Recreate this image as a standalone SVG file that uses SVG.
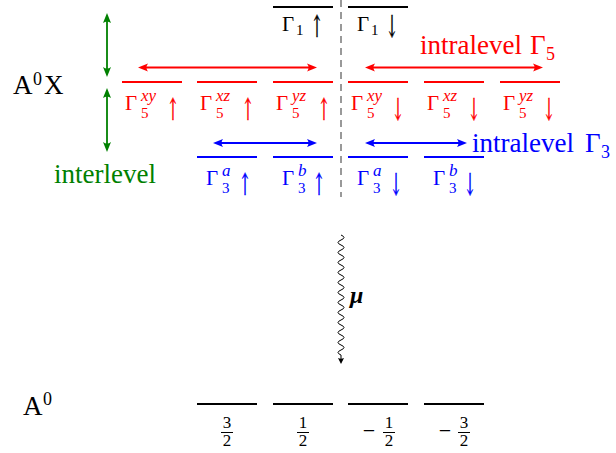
<svg xmlns="http://www.w3.org/2000/svg" width="616" height="453" viewBox="0 0 616 453">
<defs>
<style>
text{font-family:"Liberation Serif","Times New Roman",serif;}
.lvl{stroke-width:2.2;fill:none;}
.k{stroke:#000;}
.r{stroke:#f00;}
.b{stroke:#00f;}
.tk{fill:#000;}
.tr{fill:#f00;}
.tb{fill:#00f;}
.tg{fill:#008000;}
.G{font-size:21px;}
.s{font-size:15px;}
.sp{font-size:17px;font-style:italic;}
.ar{font-size:19px;font-family:"DejaVu Serif",serif;stroke-width:0.35;opacity:0.999;}
.tk.ar{stroke:#000;}
.tr.ar{stroke:#f00;}
.tb.ar{stroke:#00f;}
.big{font-size:27px;}
.num{font-size:17px;}
.arr{stroke-width:1.8;fill:none;}
</style>
<marker id="mr" markerWidth="10" markerHeight="10" refX="5" refY="5" orient="auto-start-reverse" markerUnits="userSpaceOnUse"><path d="M10,5 L0,1 Q3,5 0,9 Z" fill="#f00"/></marker>
<marker id="mb" markerWidth="10" markerHeight="10" refX="5" refY="5" orient="auto-start-reverse" markerUnits="userSpaceOnUse"><path d="M10,5 L0,1 Q3,5 0,9 Z" fill="#00f"/></marker>
<marker id="mg" markerWidth="10" markerHeight="10" refX="5" refY="5" orient="auto-start-reverse" markerUnits="userSpaceOnUse"><path d="M10,5 L0,1 Q3,5 0,9 Z" fill="#008000"/></marker>
<marker id="mk" markerWidth="7" markerHeight="7" refX="2" refY="3" orient="auto" markerUnits="userSpaceOnUse"><path d="M6,3 L0,0 Q1.5,3 0,6 Z" fill="#000"/></marker>
</defs>

<!-- separator -->
<line x1="341" y1="0" x2="341" y2="197" stroke="#808080" stroke-width="1.6" stroke-dasharray="7 5"/>

<!-- Gamma1 -->
<g id="g1-up">
<line class="lvl k" x1="273" y1="7" x2="333" y2="7"/>
<text class="tk"><tspan class="G" x="282" y="31">Γ</tspan><tspan class="s" x="296" y="35">1</tspan></text>
<text class="tk ar" transform="translate(311,37) scale(0.75,1.6)">↑</text>
</g>
<g id="g1-down">
<line class="lvl k" x1="348" y1="7" x2="408" y2="7"/>
<text class="tk"><tspan class="G" x="357" y="31">Γ</tspan><tspan class="s" x="371" y="35">1</tspan></text>
<text class="tk ar" transform="translate(386,37) scale(0.75,1.6)">↓</text>
</g>

<!-- Gamma5 -->
<g id="g5-xy-up">
<line class="lvl r" x1="122" y1="82" x2="182" y2="82"/>
<text class="tr"><tspan class="G" x="125" y="110">Γ</tspan><tspan class="sp" x="141" y="101">xy</tspan><tspan class="s" x="141" y="118">5</tspan></text>
<text class="tr ar" transform="translate(167,120) scale(0.75,1.6)">↑</text>
</g>
<g id="g5-xz-up">
<line class="lvl r" x1="197" y1="82" x2="257" y2="82"/>
<text class="tr"><tspan class="G" x="200" y="110">Γ</tspan><tspan class="sp" x="216" y="101">xz</tspan><tspan class="s" x="216" y="118">5</tspan></text>
<text class="tr ar" transform="translate(242,120) scale(0.75,1.6)">↑</text>
</g>
<g id="g5-yz-up">
<line class="lvl r" x1="273" y1="82" x2="333" y2="82"/>
<text class="tr"><tspan class="G" x="276" y="110">Γ</tspan><tspan class="sp" x="292" y="101">yz</tspan><tspan class="s" x="292" y="118">5</tspan></text>
<text class="tr ar" transform="translate(318,120) scale(0.75,1.6)">↑</text>
</g>
<g id="g5-xy-down">
<line class="lvl r" x1="348" y1="82" x2="408" y2="82"/>
<text class="tr"><tspan class="G" x="351" y="110">Γ</tspan><tspan class="sp" x="367" y="101">xy</tspan><tspan class="s" x="367" y="118">5</tspan></text>
<text class="tr ar" transform="translate(392,120) scale(0.75,1.6)">↓</text>
</g>
<g id="g5-xz-down">
<line class="lvl r" x1="424" y1="82" x2="484" y2="82"/>
<text class="tr"><tspan class="G" x="427" y="110">Γ</tspan><tspan class="sp" x="443" y="101">xz</tspan><tspan class="s" x="443" y="118">5</tspan></text>
<text class="tr ar" transform="translate(468,120) scale(0.75,1.6)">↓</text>
</g>
<g id="g5-yz-down">
<line class="lvl r" x1="500" y1="82" x2="560" y2="82"/>
<text class="tr"><tspan class="G" x="503" y="110">Γ</tspan><tspan class="sp" x="519" y="101">yz</tspan><tspan class="s" x="519" y="118">5</tspan></text>
<text class="tr ar" transform="translate(543,120) scale(0.75,1.6)">↓</text>
</g>

<!-- Gamma3 -->
<g id="g3-a-up">
<line class="lvl b" x1="197" y1="157" x2="257" y2="157"/>
<text class="tb"><tspan class="G" x="206" y="185">Γ</tspan><tspan class="sp" x="222" y="176">a</tspan><tspan class="s" x="222" y="193">3</tspan></text>
<text class="tb ar" transform="translate(239,195) scale(0.75,1.6)">↑</text>
</g>
<g id="g3-b-up">
<line class="lvl b" x1="273" y1="157" x2="333" y2="157"/>
<text class="tb"><tspan class="G" x="282" y="185">Γ</tspan><tspan class="sp" x="298" y="176">b</tspan><tspan class="s" x="298" y="193">3</tspan></text>
<text class="tb ar" transform="translate(313,195) scale(0.75,1.6)">↑</text>
</g>
<g id="g3-a-down">
<line class="lvl b" x1="348" y1="157" x2="408" y2="157"/>
<text class="tb"><tspan class="G" x="357" y="185">Γ</tspan><tspan class="sp" x="373" y="176">a</tspan><tspan class="s" x="373" y="193">3</tspan></text>
<text class="tb ar" transform="translate(390,195) scale(0.75,1.6)">↓</text>
</g>
<g id="g3-b-down">
<line class="lvl b" x1="424" y1="157" x2="484" y2="157"/>
<text class="tb"><tspan class="G" x="433" y="185">Γ</tspan><tspan class="sp" x="449" y="176">b</tspan><tspan class="s" x="449" y="193">3</tspan></text>
<text class="tb ar" transform="translate(464,195) scale(0.75,1.6)">↓</text>
</g>

<!-- ground state A0 -->
<g id="a0-p3">
<line class="lvl k" x1="197" y1="404" x2="257" y2="404"/>
<text class="tk num" x="227" y="428" text-anchor="middle">3</text>
<line x1="221" y1="432.5" x2="233" y2="432.5" stroke="#000" stroke-width="1"/>
<text class="tk num" x="227" y="446" text-anchor="middle">2</text>
</g>
<g id="a0-p1">
<line class="lvl k" x1="273" y1="404" x2="333" y2="404"/>
<text class="tk num" x="303" y="428" text-anchor="middle">1</text>
<line x1="297" y1="432.5" x2="309" y2="432.5" stroke="#000" stroke-width="1"/>
<text class="tk num" x="303" y="446" text-anchor="middle">2</text>
</g>
<g id="a0-m1">
<line class="lvl k" x1="348" y1="404" x2="408" y2="404"/>
<text class="tk" x="369" y="438" font-size="22" text-anchor="middle">−</text>
<text class="tk num" x="389" y="428" text-anchor="middle">1</text>
<line x1="383" y1="432.5" x2="395" y2="432.5" stroke="#000" stroke-width="1"/>
<text class="tk num" x="389" y="446" text-anchor="middle">2</text>
</g>
<g id="a0-m3">
<line class="lvl k" x1="424" y1="404" x2="484" y2="404"/>
<text class="tk" x="445" y="438" font-size="22" text-anchor="middle">−</text>
<text class="tk num" x="464" y="428" text-anchor="middle">3</text>
<line x1="458" y1="432.5" x2="470" y2="432.5" stroke="#000" stroke-width="1"/>
<text class="tk num" x="464" y="446" text-anchor="middle">2</text>
</g>

<!-- labels -->
<g id="labels">
<text class="tk"><tspan class="big" x="13" y="94">A</tspan><tspan font-size="18" x="33" y="85">0</tspan><tspan class="big" x="44" y="94">X</tspan></text>
<text class="tk"><tspan class="big" x="23" y="415">A</tspan><tspan font-size="18" x="43" y="405">0</tspan></text>
<text class="tg big" x="54" y="183">interlevel</text>
<text class="tr"><tspan class="big" x="420" y="54">intralevel</tspan><tspan class="big" x="530" y="54">Γ</tspan><tspan font-size="18" x="546" y="60">5</tspan></text>
<text class="tb"><tspan class="big" x="472" y="152">intralevel</tspan><tspan class="big" x="585" y="152">Γ</tspan><tspan font-size="18" x="601" y="158">3</tspan></text>
<text class="tk" x="350" y="303" font-size="24" font-weight="bold" font-style="italic">μ</text>
</g>

<!-- connectors -->
<g id="connectors">
<line class="arr" stroke="#f00" x1="143" y1="67.5" x2="312" y2="67.5" marker-start="url(#mr)" marker-end="url(#mr)"/>
<line class="arr" stroke="#f00" x1="370" y1="67.5" x2="538" y2="67.5" marker-start="url(#mr)" marker-end="url(#mr)"/>
<line class="arr" stroke="#00f" x1="218" y1="143" x2="312" y2="143" marker-start="url(#mb)" marker-end="url(#mb)"/>
<line class="arr" stroke="#00f" x1="370" y1="143" x2="462" y2="143" marker-start="url(#mb)" marker-end="url(#mb)"/>
<line class="arr" stroke="#008000" x1="107" y1="18" x2="107" y2="72" marker-start="url(#mg)" marker-end="url(#mg)"/>
<line class="arr" stroke="#008000" x1="107" y1="93" x2="107" y2="147" marker-start="url(#mg)" marker-end="url(#mg)"/>
<path d="M341,235 q6,2.5 0,5 t0,5 t0,5 t0,5 t0,5 t0,5 t0,5 t0,5 t0,5 t0,5 t0,5 t0,5 t0,5 t0,5 t0,5 t0,5 t0,5 t0,5 t0,5 t0,5 t0,5 t0,5 t0,5 t0,5 L341,360" fill="none" stroke="#000" stroke-width="1" marker-end="url(#mk)"/>
</g>
</svg>
